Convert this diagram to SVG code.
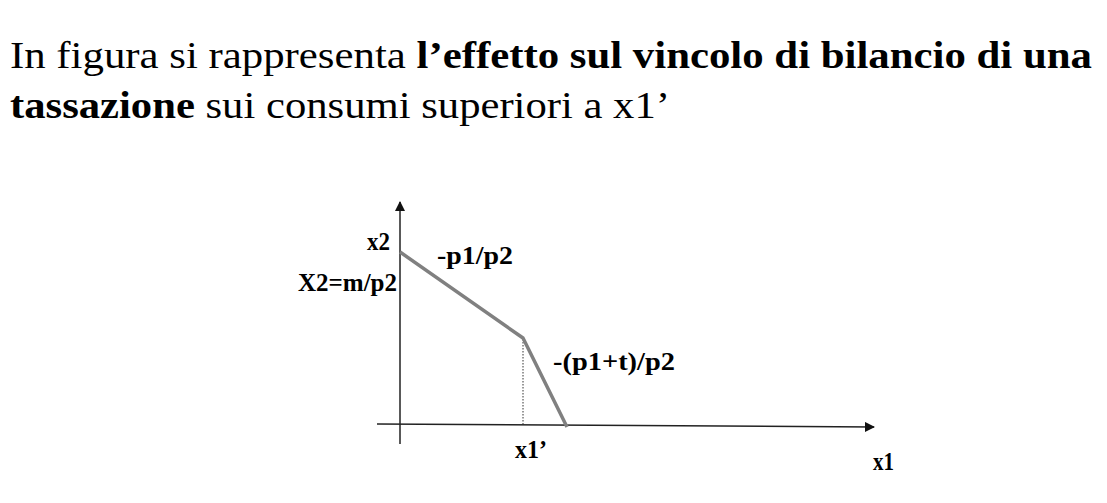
<svg xmlns="http://www.w3.org/2000/svg" width="1107" height="503" viewBox="0 0 1107 503">
<style>
.t{font-family:"Liberation Serif","Times New Roman",serif;fill:#000}
.title{font-size:38px}
.lab{font-size:25px;font-weight:bold}
.axis{stroke:#222;stroke-width:1.5;fill:none}
.budget{stroke:#808080;stroke-width:3.5;fill:none;stroke-linejoin:round}
.dot{stroke:#333;stroke-width:1;stroke-dasharray:1.5 1.5;fill:none}
</style>
<defs>
<marker id="arr" viewBox="0 0 10 10" refX="9" refY="5" markerWidth="10" markerHeight="10" markerUnits="userSpaceOnUse" orient="auto">
<path d="M0,0 L10,5 L0,10 z" fill="#111"/>
</marker>
</defs>
<g id="title">
<text class="t title" x="10" y="68" textLength="1082" lengthAdjust="spacingAndGlyphs">In figura si rappresenta <tspan font-weight="bold">l’effetto sul vincolo di bilancio di una</tspan></text>
<text class="t title" x="10" y="118" textLength="660" lengthAdjust="spacingAndGlyphs"><tspan font-weight="bold">tassazione</tspan> sui consumi superiori a x1’</text>
</g>
<g id="connectors">
<line class="axis" x1="400" y1="444" x2="400" y2="202" marker-end="url(#arr)"/>
<line class="axis" x1="377" y1="424" x2="874" y2="427" marker-end="url(#arr)"/>
<line class="dot" x1="523" y1="339" x2="523" y2="425"/>
<polyline class="budget" points="400,252 523,338 567,427"/>
</g>
<g id="labels">
<text class="t lab" x="367" y="250" textLength="23" lengthAdjust="spacingAndGlyphs">x2</text>
<text class="t lab" x="298" y="291" textLength="99" lengthAdjust="spacingAndGlyphs">X2=m/p2</text>
<text class="t lab" x="437" y="264" textLength="76" lengthAdjust="spacingAndGlyphs">-p1/p2</text>
<text class="t lab" x="553" y="370" textLength="122" lengthAdjust="spacingAndGlyphs">-(p1+t)/p2</text>
<text class="t lab" x="515" y="458" textLength="32" lengthAdjust="spacingAndGlyphs">x1’</text>
<text class="t lab" x="873" y="470" textLength="21" lengthAdjust="spacingAndGlyphs">x1</text>
</g>
</svg>
